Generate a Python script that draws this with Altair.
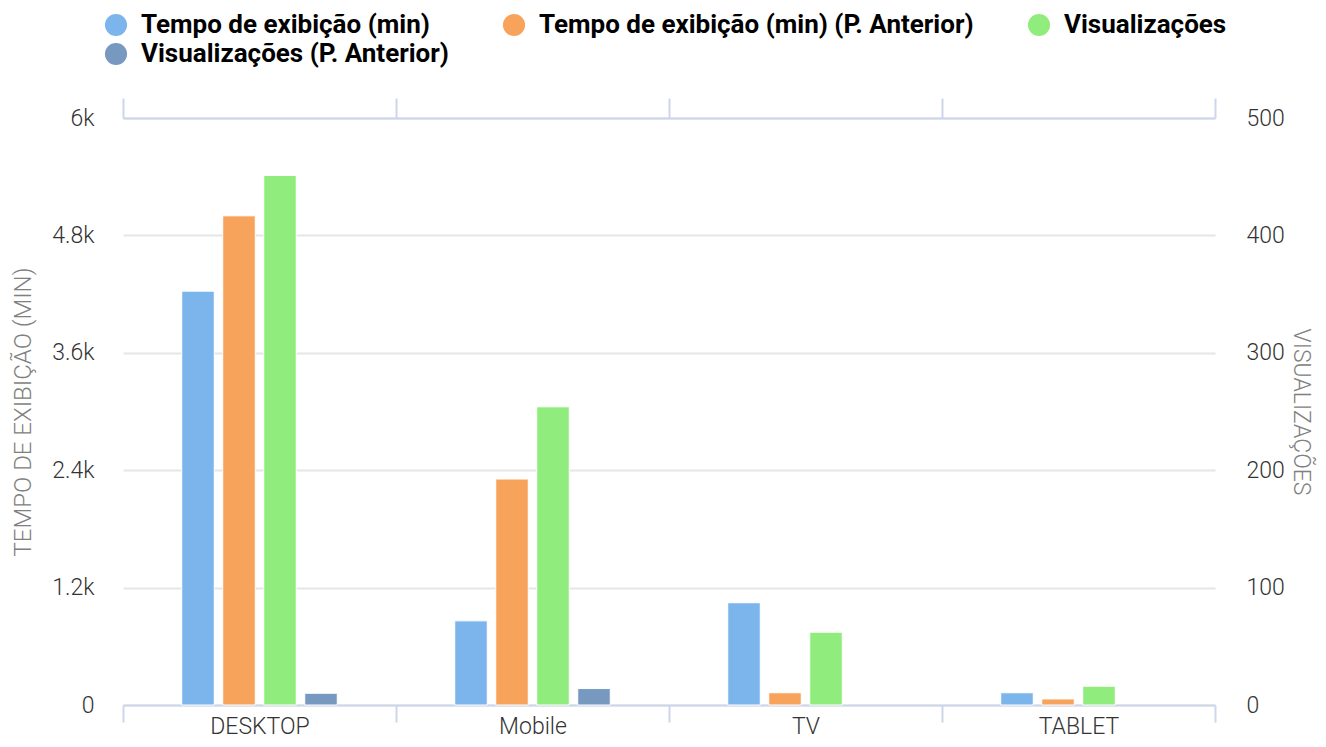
import altair as alt
import pandas as pd

categorias = ["DESKTOP", "Mobile", "TV", "TABLET"]
series = [
    "Tempo de exibição (min)",
    "Tempo de exibição (min) (P. Anterior)",
    "Visualizações",
    "Visualizações (P. Anterior)",
]
tempo = [4230, 860, 1045, 125]
tempo_ant = [5000, 2310, 125, 62]
visualizacoes = [451, 254, 62, 16]
visualizacoes_ant = [10, 14, 0, 0]
cores = ["#7cb5ec", "#f7a35c", "#90ed7d", "#7798bf"]
ticks_tempo = [0, 1200, 2400, 3600, 4800, 6000]
ticks_vis = [0, 100, 200, 300, 400, 500]

rows = []
for serie, vals, eixo in zip(series, [tempo, tempo_ant, visualizacoes, visualizacoes_ant],
                             ["t", "t", "v", "v"]):
    for c, v in zip(categorias, vals):
        rows.append({"categoria": c, "serie": serie, "valor": v, "eixo": eixo})
df = pd.DataFrame(rows)

AXC = "#ccd6eb"
FONT = "Roboto"

def xenc(bottom):
    if bottom:
        ax = alt.Axis(orient="bottom", title=None, tickBand="extent", tickSize=17, tickWidth=2,
                      tickColor=AXC, domainColor=AXC, domainWidth=2, labelFont=FONT,
                      labelFontSize=23, labelFontWeight=300, labelColor="#333333",
                      labelBaseline="alphabetic", labelPadding=11, labelAngle=0, grid=False)
    else:
        ax = alt.Axis(orient="top", title=None, labels=False, tickBand="extent", tickSize=20,
                      tickWidth=2, tickColor=AXC, domainColor=AXC, domainWidth=2, grid=False)
    return alt.X("categoria:N", sort=categorias,
                 scale=alt.Scale(domain=categorias, paddingInner=0, paddingOuter=0), axis=ax)

# two empty slots at the ends of each group keep the four bars centred
offset_domain = ["_ini"] + series + ["_fim"]
xoff = alt.XOffset("serie:N", scale=alt.Scale(domain=offset_domain, paddingInner=0.207,
                                               paddingOuter=0.433))

color = alt.Color(
    "serie:N",
    scale=alt.Scale(domain=series, range=cores),
    legend=alt.Legend(
        title=None, orient="none", legendX=-20, legendY=-106, direction="horizontal",
        columns=3, gridAlign="each", columnPadding=52, rowPadding=3, symbolType="circle",
        symbolSize=490, symbolStrokeWidth=0, symbolOpacity=1, labelFont=FONT,
        labelFontSize=26, labelFontWeight="bold", labelColor="#000000", labelOffset=12,
        labelLimit=800, padding=0,
    ),
)

label_k = "datum.value >= 1000 ? format(datum.value / 1000, '.1~f') + 'k' : format(datum.value, 'd')"

bars_t = (
    alt.Chart(df)
    .transform_filter("datum.eixo == 't' && datum.valor > 0")
    .mark_bar(stroke="white", strokeWidth=1)
    .encode(
        x=xenc(True),
        xOffset=xoff,
        y=alt.Y("valor:Q", scale=alt.Scale(domain=[0, 6000], nice=False),
                axis=alt.Axis(orient="left", values=ticks_tempo, labelExpr=label_k,
                              title="TEMPO DE EXIBIÇÃO (MIN)", grid=True, gridColor="#e6e6e6",
                              gridWidth=2, domain=False, ticks=False, labelPadding=29,
                              labelFont=FONT, labelFontSize=23, labelFontWeight=300,
                              labelColor="#333333", titleFont=FONT, titleFontSize=24,
                              titleFontWeight=300, titleColor="#808080", titlePadding=16)),
        color=color,
    )
)

bars_v = (
    alt.Chart(df)
    .transform_filter("datum.eixo == 'v' && datum.valor > 0")
    .mark_bar(stroke="white", strokeWidth=1)
    .encode(
        x=xenc(False),
        xOffset=xoff,
        y=alt.Y("valor:Q", scale=alt.Scale(domain=[0, 500], nice=False),
                axis=alt.Axis(orient="right", values=ticks_vis, title="VISUALIZAÇÕES",
                              grid=False, domain=False, ticks=False, labelPadding=31,
                              labelFont=FONT, labelFontSize=23, labelFontWeight=300,
                              labelColor="#333333", titleFont=FONT, titleFontSize=23,
                              titleFontWeight=300, titleColor="#808080", titlePadding=4)),
        color=color,
    )
)

chart = (
    alt.layer(bars_t, bars_v)
    .resolve_scale(y="independent")
    .resolve_axis(x="independent")
    .properties(
        width=1092, height=587,
        autosize=alt.AutoSizeParams(type="none"),
        padding={"left": 115, "top": 110, "right": 103, "bottom": 34},
    )
    .configure_view(stroke=None)
)

chart.save("out.html", embed_options={"renderer": "svg", "actions": False})
